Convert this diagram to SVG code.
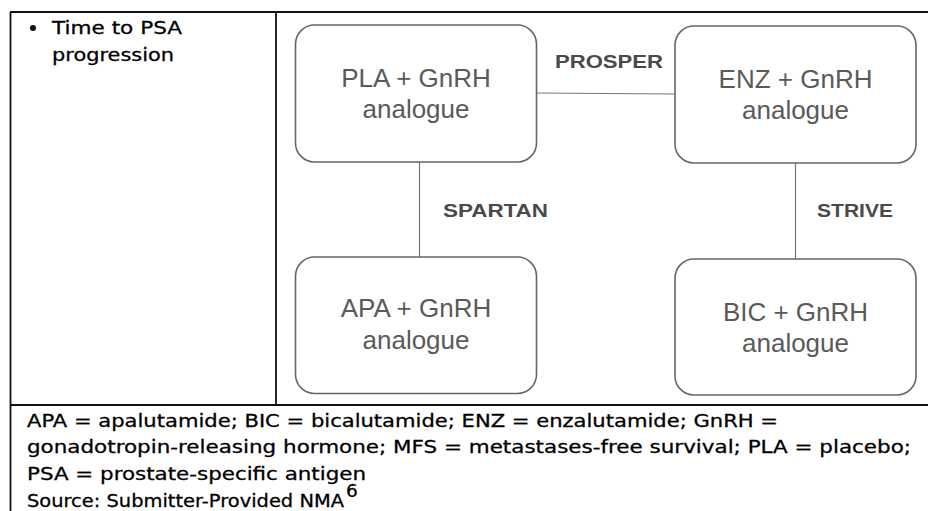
<svg xmlns="http://www.w3.org/2000/svg" width="928" height="511" viewBox="0 0 928 511">
<style>
.tbl{stroke:#111;stroke-width:1.8;fill:none}
.box{fill:#fff;stroke:#666;stroke-width:1.6}
.ntx{font-family:"Liberation Sans",Arial,sans-serif;font-size:26px;fill:#5a5a5a;text-anchor:middle}
.lbl{font-family:"Liberation Sans",Arial,sans-serif;font-weight:bold;font-size:19px;fill:#4a4a4a}
.con{stroke:#777;stroke-width:1.2;fill:none}
.ft{font-family:"DejaVu Sans",Verdana,sans-serif;font-size:18.5px;fill:#000;stroke:#000;stroke-width:0.3}
</style>
<rect width="928" height="511" fill="#fff"/>
<g id="table">
<line class="tbl" x1="10" y1="12" x2="928" y2="12"/>
<line class="tbl" x1="10.5" y1="12" x2="10.5" y2="511"/>
<line class="tbl" x1="276" y1="12" x2="276" y2="405"/>
<line class="tbl" x1="10" y1="405" x2="928" y2="405"/>
</g>
<g id="header">
<circle cx="33" cy="28" r="3" fill="#111"/>
<text class="ft" x="52" y="34" textLength="130" lengthAdjust="spacingAndGlyphs">Time to PSA</text>
<text class="ft" x="52" y="61" textLength="122" lengthAdjust="spacingAndGlyphs">progression</text>
</g>
<g id="connectors">
<line class="con" x1="537" y1="93" x2="675" y2="94"/>
<line class="con" x1="419.5" y1="162" x2="419.5" y2="257"/>
<line class="con" x1="795.5" y1="163" x2="795.5" y2="259"/>
<text class="lbl" x="555" y="68" textLength="108" lengthAdjust="spacingAndGlyphs">PROSPER</text>
<text class="lbl" x="443" y="216.5" textLength="105" lengthAdjust="spacingAndGlyphs">SPARTAN</text>
<text class="lbl" x="817" y="216.5" textLength="76" lengthAdjust="spacingAndGlyphs">STRIVE</text>
</g>
<g id="node-pla">
<rect class="box" x="295.5" y="25" width="241" height="137" rx="19"/>
<text class="ntx" x="416" y="87">PLA + GnRH</text>
<text class="ntx" x="416" y="118">analogue</text>
</g>
<g id="node-enz">
<rect class="box" x="675" y="26" width="241" height="137" rx="19"/>
<text class="ntx" x="795.5" y="88">ENZ + GnRH</text>
<text class="ntx" x="795.5" y="119">analogue</text>
</g>
<g id="node-apa">
<rect class="box" x="295.5" y="257" width="241" height="136.5" rx="19"/>
<text class="ntx" x="416" y="317">APA + GnRH</text>
<text class="ntx" x="416" y="349">analogue</text>
</g>
<g id="node-bic">
<rect class="box" x="675" y="259" width="241" height="136" rx="19"/>
<text class="ntx" x="795.5" y="321">BIC + GnRH</text>
<text class="ntx" x="795.5" y="352">analogue</text>
</g>
<g id="footer">
<text class="ft" x="27" y="427" textLength="751" lengthAdjust="spacingAndGlyphs">APA = apalutamide; BIC = bicalutamide; ENZ = enzalutamide; GnRH =</text>
<text class="ft" x="27" y="453" textLength="884" lengthAdjust="spacingAndGlyphs">gonadotropin-releasing hormone; MFS = metastases-free survival; PLA = placebo;</text>
<text class="ft" x="27" y="480" textLength="339" lengthAdjust="spacingAndGlyphs">PSA = prostate-specific antigen</text>
<text class="ft" x="27" y="507" textLength="317" lengthAdjust="spacingAndGlyphs">Source: Submitter-Provided NMA</text>
<text class="ft" x="346" y="497" font-size="11" stroke-width="0.2">6</text>
</g>
</svg>
